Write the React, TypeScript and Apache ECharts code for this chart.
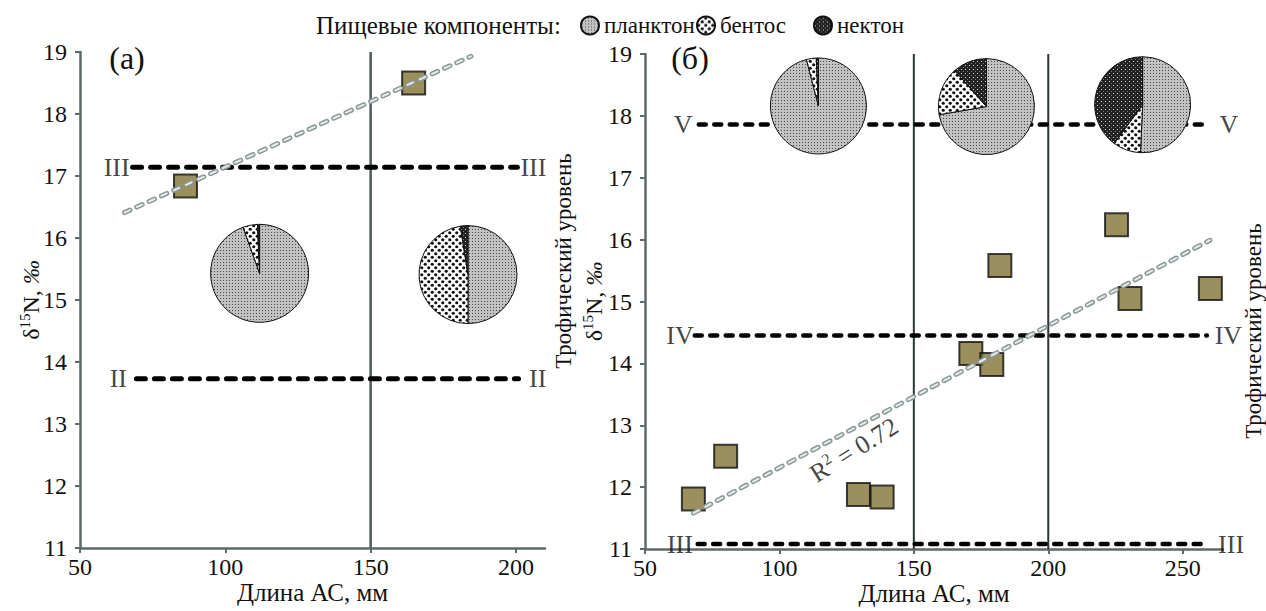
import React, { useEffect, useRef } from 'react';
import * as echarts from 'echarts';

const FONT = '"Liberation Serif", "Times New Roman", Times, serif';

const foodNames = ['планктон', 'бентос', 'нектон'];
const xTicksA = [50, 100, 150, 200];
const xTicksB = [50, 100, 150, 200, 250];

// panel (а)
const pointsA = [[86.3, 16.84], [164.8, 18.5]];
const trendA = [[65.3, 16.41], [184.5, 18.93]];
const dividersA = [150];
const levelsA = [[17.14, 68.1, 200.5], [13.73, 69.4, 200.9]]; // y, x start, x end
const levelLabelsA: [string, number, number][] = [
  ['III', 62.6, 17.14], ['III', 206, 17.14], ['II', 63.2, 13.73], ['II', 207.5, 13.73],
];
const pieCentersA = [[111.8, 15.43], [183.5, 15.41]];
const pieSharesA = [[94.5, 4.8, 0.7], [50, 47.5, 2.5]];

// panel (б)
const pointsB = [
  [68, 11.81], [80, 12.5], [129.4, 11.88], [138.2, 11.84], [171.2, 14.16],
  [179, 13.98], [182, 15.58], [225.4, 16.24], [230.4, 15.05], [260.3, 15.21],
];
const trendB = [[68, 11.58], [260.1, 15.99]];
const dividersB = [150, 200];
const levelsB = [[17.86, 70, 258.8], [14.45, 68.5, 259], [11.08, 69.6, 259.5]];
const levelLabelsB: [string, number, number][] = [
  ['V', 64.2, 17.86], ['V', 267.2, 17.86], ['IV', 63, 14.45], ['IV', 267, 14.45],
  ['III', 63, 11.08], ['III', 268, 11.08],
];
const pieCentersB = [[114.5, 18.16], [177, 18.15], [235.1, 18.18]];
const pieSharesB = [[96, 3.3, 0.7], [72.3, 16.2, 11.5], [50.7, 9.4, 39.9]];
const r2Pos = [127.7, 12.6];

function tile(w: number, h: number, draw: (ctx: CanvasRenderingContext2D) => void) {
  const c = document.createElement('canvas');
  c.width = w;
  c.height = h;
  const ctx = c.getContext('2d')!;
  draw(ctx);
  return { image: c.toDataURL(), repeat: 'repeat', imageWidth: w, imageHeight: h } as any;
}

function makePatterns() {
  const plankton = tile(3, 3, (ctx) => {
    ctx.fillStyle = '#c2c2c2';
    ctx.fillRect(0, 0, 3, 3);
    ctx.fillStyle = '#4a4a4a';
    ctx.fillRect(1, 1, 1, 1);
  });
  const benthos = tile(7, 7, (ctx) => {
    ctx.fillStyle = '#ffffff';
    ctx.fillRect(0, 0, 7, 7);
    ctx.fillStyle = '#111111';
    ctx.beginPath();
    ctx.arc(1.75, 1.75, 1.6, 0, Math.PI * 2);
    ctx.fill();
    ctx.beginPath();
    ctx.arc(5.25, 5.25, 1.6, 0, Math.PI * 2);
    ctx.fill();
  });
  const nekton = tile(4, 4, (ctx) => {
    ctx.fillStyle = '#222222';
    ctx.fillRect(0, 0, 4, 4);
    ctx.fillStyle = '#d8d8d8';
    ctx.fillRect(1, 1, 1, 1);
    ctx.fillStyle = '#7a7a7a';
    ctx.fillRect(3, 3, 1, 1);
  });
  return [plankton, benthos, nekton];
}

const axisColor = '#5c6a6a';

function xAxis(gridIndex: number, max: number, ticks: number[]) {
  return {
    type: 'value', gridIndex, min: 50, max, interval: 50,
    name: 'Длина АС, мм', nameLocation: 'middle', nameGap: 32, nameMoveOverlap: false,
    nameTextStyle: { fontFamily: FONT, fontSize: 25, color: '#111' },
    axisLine: { show: true, onZero: false, lineStyle: { color: axisColor, width: 2.5 } },
    axisTick: { show: true, length: 5, customValues: ticks, lineStyle: { color: axisColor, width: 2 } },
    axisLabel: { customValues: ticks, fontFamily: FONT, fontSize: 24, color: '#111', margin: 7 },
    splitLine: { show: false },
  };
}

function yAxis(gridIndex: number, nameGap: number) {
  return {
    type: 'value', gridIndex, min: 11, max: 19, interval: 1,
    name: '{d|δ}{s|15}{d|N, }{i|‰}', nameLocation: 'middle', nameGap, nameRotate: 90,
    nameMoveOverlap: false,
    nameTextStyle: {
      fontFamily: FONT, fontSize: 24, color: '#111',
      rich: {
        d: { fontFamily: FONT, fontSize: 24, color: '#111', lineHeight: 28 },
        s: { fontFamily: FONT, fontSize: 15, color: '#111', lineHeight: 15, verticalAlign: 'top' },
        i: { fontFamily: FONT, fontSize: 24, color: '#111', fontStyle: 'italic', lineHeight: 28 },
      },
    },
    axisLine: { show: true, onZero: false, lineStyle: { color: axisColor, width: 2.5 } },
    axisTick: { show: true, length: 5, lineStyle: { color: axisColor, width: 2 } },
    axisLabel: { fontFamily: FONT, fontSize: 24, color: '#111', margin: 13 },
    splitLine: { show: false },
  };
}

function panelSeries(idx: number, points: number[][], trend: number[][], dividers: number[],
  levels: number[][], labels: [string, number, number][], dividerColor: string, dividerWidth: number,
  levelDash: number[], levelWidth: number) {
  const s: any[] = [];
  const ax = { xAxisIndex: idx, yAxisIndex: idx };
  dividers.forEach((x) => {
    s.push({
      type: 'line', ...ax, data: [[x, 11], [x, 19]], symbol: 'none', silent: true,
      lineStyle: { color: dividerColor, width: dividerWidth }, z: 2,
    });
  });
  levels.forEach((l) => {
    s.push({
      type: 'line', ...ax, data: [[l[1], l[0]], [l[2], l[0]]], symbol: 'none', silent: true,
      lineStyle: { color: '#000', width: levelWidth, type: levelDash, cap: 'round' }, z: 3,
    });
  });
  s.push({
    type: 'scatter', ...ax, clip: false, data: labels.map((l) => ({ name: l[0], value: [l[1], l[2]] })),
    symbolSize: 1, itemStyle: { color: 'rgba(0,0,0,0)' }, silent: true, z: 4,
    label: { show: true, position: 'inside', formatter: '{b}', fontFamily: FONT, fontSize: 26, color: '#111' },
  });
  s.push({
    type: 'scatter', ...ax, data: points, symbol: 'rect', symbolSize: 23, z: 5,
    itemStyle: { color: '#817335', borderColor: '#111', borderWidth: 2 },
  });
  s.push({
    type: 'line', ...ax, data: trend, symbol: 'none', silent: true, z: 6,
    lineStyle: { color: '#8a9797', width: 5, type: [6, 7.5], cap: 'round' },
  });
  s.push({
    type: 'line', ...ax, data: trend, symbol: 'none', silent: true, z: 7,
    lineStyle: { color: '#e6eaea', width: 2, type: [6, 7.5], cap: 'round' },
  });
  return s;
}

export default function App() {
  const ref = useRef<HTMLDivElement>(null);
  useEffect(() => {
    const chart = echarts.init(ref.current!, null, { renderer: 'svg' });
    const patterns = makePatterns();

    const baseSeries = [
      ...panelSeries(0, pointsA, trendA, dividersA, levelsA, levelLabelsA, '#4d5a5a', 2.5, [9, 9], 5),
      ...panelSeries(1, pointsB, trendB, dividersB, levelsB, levelLabelsB, '#2c3636', 2, [7, 8.5], 4.5),
      {
        type: 'scatter', xAxisIndex: 1, yAxisIndex: 1, data: [{ name: 'r2', value: r2Pos }],
        symbolSize: 1, itemStyle: { color: 'rgba(0,0,0,0)' }, silent: true, z: 8,
        label: {
          show: true, position: 'inside', rotate: 32, formatter: '{t|R}{s|2}{t| = 0.72}',
          rich: {
            t: { fontFamily: FONT, fontSize: 26, color: '#111', lineHeight: 30 },
            s: { fontFamily: FONT, fontSize: 16, color: '#111', lineHeight: 16, verticalAlign: 'top' },
          },
        },
      },
    ];

    const legendCommon = {
      orient: 'horizontal', top: 14, itemWidth: 18, itemHeight: 18, itemGap: 4, icon: 'circle',
      selectedMode: false, padding: 0,
      textStyle: { fontFamily: FONT, fontSize: 23, color: '#111' },
    };

    const option: any = {
      animation: false,
      backgroundColor: '#ffffff',
      grid: [
        { left: 80, top: 52, width: 465, height: 496 },
        { left: 645, top: 54, width: 578, height: 500 },
      ],
      xAxis: [xAxis(0, 210, xTicksA), xAxis(1, 265, xTicksB)],
      yAxis: [yAxis(0, 35), yAxis(1, 37)],
      legend: [
        { ...legendCommon, left: 580, data: [foodNames[0]] },
        { ...legendCommon, left: 696, data: [foodNames[1]] },
        { ...legendCommon, left: 813, data: [foodNames[2]] },
      ],
      graphic: [
        { type: 'text', x: 316, y: 25, style: { text: 'Пищевые компоненты:', fontFamily: FONT, fontSize: 25, fill: '#111', align: 'left', verticalAlign: 'middle' } },
        { type: 'text', x: 127, y: 58, style: { text: '(а)', fontFamily: FONT, fontSize: 32, fill: '#111', align: 'center', verticalAlign: 'middle' } },
        { type: 'text', x: 690, y: 58, style: { text: '(б)', fontFamily: FONT, fontSize: 32, fill: '#111', align: 'center', verticalAlign: 'middle' } },
        { type: 'text', x: 563, y: 261, rotation: Math.PI / 2, style: { text: 'Трофический уровень', fontFamily: FONT, fontSize: 23, fill: '#111', align: 'center', verticalAlign: 'middle' } },
        { type: 'text', x: 1253, y: 331, rotation: Math.PI / 2, style: { text: 'Трофический уровень', fontFamily: FONT, fontSize: 23, fill: '#111', align: 'center', verticalAlign: 'middle' } },
      ],
      series: baseSeries,
    };
    chart.setOption(option);

    const pies: any[] = [];
    const addPies = (gridIndex: number, centers: number[][], shares: number[][], radius: number) => {
      centers.forEach((c, i) => {
        const px = chart.convertToPixel({ gridIndex } as any, c) as number[];
        pies.push({
          type: 'pie', center: px, radius, z: 9, silent: true,
          label: { show: false }, labelLine: { show: false },
          itemStyle: { borderColor: '#111', borderWidth: 1 },
          data: foodNames.map((n, k) => ({ name: n, value: shares[i][k], itemStyle: { color: patterns[k] } })),
        });
      });
    };
    addPies(0, pieCentersA, pieSharesA, 49);
    addPies(1, pieCentersB, pieSharesB, 48);
    chart.setOption({ series: [...baseSeries, ...pies] });

    return () => chart.dispose();
  }, []);
  return <div ref={ref} style={{ position: 'fixed', left: 0, top: 0, width: 1266, height: 611 }} />;
}
